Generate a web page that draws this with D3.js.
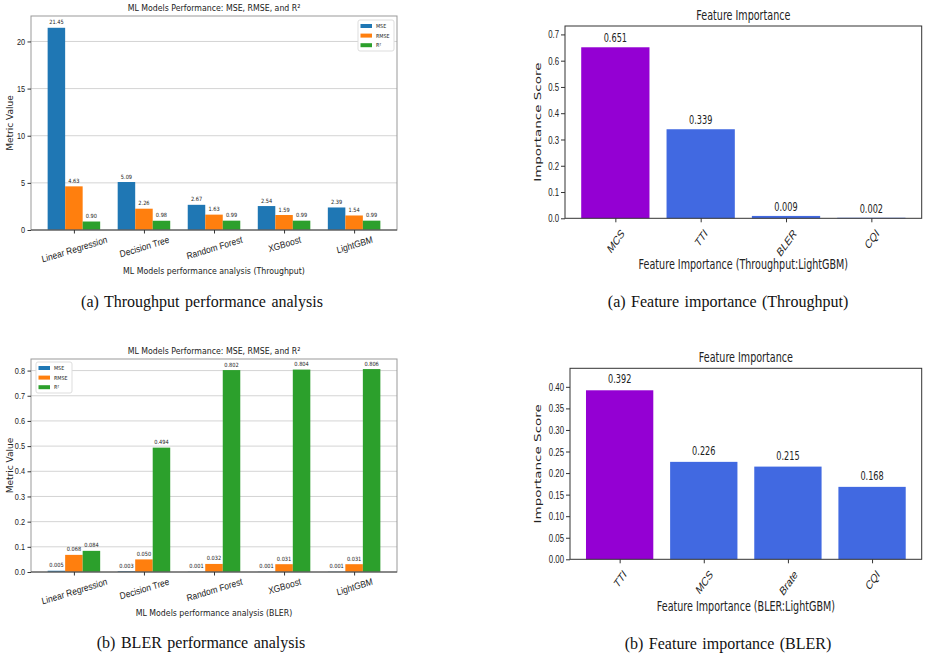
<!DOCTYPE html>
<html lang="en">
<head>
<meta charset="UTF-8">
<title>ML Models Performance and Feature Importance</title>
<script src="https://d3js.org/d3.v7.min.js"></script>
<style>
    body { margin: 0; background: #fff; }
    svg { display: block; font-family: "DejaVu Sans", sans-serif; }
    .caption { font-family: "Liberation Serif", "Times New Roman", serif; font-size: 16px; word-spacing: 1.5px; fill: #111; }
    .tick line { stroke: #333; }
    .tick text { fill: #222; }
    .domain { display: none; }
</style>
</head>
<body>
<script>
    // ---- data ----
    const models = ['Linear Regression', 'Decision Tree', 'Random Forest', 'XGBoost', 'LightGBM'];
    const metrics = ['MSE', 'RMSE', 'R²'];

    const tputMSE = [21.45, 5.09, 2.67, 2.54, 2.39];
    const tputRMSE = [4.63, 2.26, 1.63, 1.59, 1.54];
    const tputR2 = [0.90, 0.98, 0.99, 0.99, 0.99];
    const tputTicks = [0, 5, 10, 15, 20];

    const blerMSE = [0.005, 0.003, 0.001, 0.001, 0.001];
    const blerRMSE = [0.068, 0.050, 0.032, 0.031, 0.031];
    const blerR2 = [0.084, 0.494, 0.802, 0.804, 0.806];
    const blerTicks = [0, 0.1, 0.2, 0.3, 0.4, 0.5, 0.6, 0.7, 0.8];

    const tputFeatures = ['MCS', 'TTI', 'BLER', 'CQI'];
    const tputImportance = [0.651, 0.339, 0.009, 0.002];
    const tputImpTicks = [0, 0.1, 0.2, 0.3, 0.4, 0.5, 0.6, 0.7];

    const blerFeatures = ['TTI', 'MCS', 'Brate', 'CQI'];
    const blerImportance = [0.392, 0.226, 0.215, 0.168];
    const blerImpTicks = [0, 0.05, 0.10, 0.15, 0.20, 0.25, 0.30, 0.35, 0.40];

    const metricColors = ['#1f77b4', '#ff7f0e', '#2ca02c'];
    const topColor = '#9400d3';
    const restColor = '#4169e1';

    const svg = d3.select('body').append('svg')
        .attr('width', 929)
        .attr('height', 660);

    // text squeezed horizontally like the reference
    function label(g, x, y, str, size, sx, rot, anchor) {
        return g.append('text')
            .attr('font-size', size)
            .attr('text-anchor', anchor || 'middle')
            .attr('fill', '#222')
            .attr('transform', `translate(${x},${y}) scale(${sx},1)` + (rot ? ` rotate(${rot})` : ''))
            .text(str);
    }

    function rotateTicks(axisG, angle, sx, top, fs) {
        const a = angle * Math.PI / 180;
        axisG.selectAll('.tick text').each(function() {
            const t = d3.select(this);
            t.attr('y', null).attr('dy', '0.35em').attr('text-anchor', 'middle').attr('font-size', fs);
            const L = this.getComputedTextLength();
            const V = L * Math.sin(a) + fs * 0.9 * Math.cos(a);
            t.attr('transform', `translate(0,${top + V / 2}) scale(${sx},1) rotate(${-angle})`);
        });
    }

    function groupedChart(o) {
        const g = svg.append('g');
        const sx = 0.87;
        const x = d3.scaleLinear().domain([-0.6125, models.length - 1 + 0.6125]).range([o.left, o.right]);
        const y = d3.scaleLinear().domain([0, o.ymax]).range([o.bottom, o.top]);
        const bw = 0.25;

        g.selectAll('.grid').data(o.ticks.slice(1)).join('line')
            .attr('x1', o.left).attr('x2', o.right)
            .attr('y1', d => y(d)).attr('y2', d => y(d))
            .attr('stroke', '#d4d4d4').attr('stroke-width', 1);

        [o.mse, o.rmse, o.r2].forEach((vals, s) => {
            g.selectAll(null).data(vals).join('rect')
                .attr('x', (d, i) => x(i + (s - 1) * bw - bw / 2))
                .attr('width', x(bw) - x(0))
                .attr('y', d => y(d))
                .attr('height', d => y(0) - y(d))
                .attr('fill', metricColors[s]);
            vals.forEach((d, i) => {
                label(g, x(i + (s - 1) * bw), y(d) - 3.5, o.fmt(d), 5.8, sx);
            });
        });

        g.append('rect')
            .attr('x', o.left).attr('y', o.top)
            .attr('width', o.right - o.left).attr('height', o.bottom - o.top)
            .attr('fill', 'none').attr('stroke', '#999');
        g.append('line')
            .attr('x1', o.left).attr('x2', o.right)
            .attr('y1', o.bottom).attr('y2', o.bottom)
            .attr('stroke', '#444');

        const ya = g.append('g')
            .attr('transform', `translate(${o.left},0)`)
            .call(d3.axisLeft(y).tickValues(o.ticks).tickFormat(o.tickFmt).tickSize(3.5));
        ya.selectAll('.tick text')
            .attr('font-size', 8.4)
            .attr('x', -6 / sx)
            .attr('transform', `scale(${sx},1)`);

        const xa = g.append('g')
            .attr('transform', `translate(0,${o.bottom})`)
            .call(d3.axisBottom(x).tickValues(d3.range(models.length)).tickFormat(i => models[i]).tickSize(3.5));
        rotateTicks(xa, 15, sx, 5, 9.6);

        label(g, (o.left + o.right) / 2, o.top - 5, 'ML Models Performance: MSE, RMSE, and R²', 9, sx);
        label(g, (o.left + o.right) / 2, o.xlabelY, o.xlabel, 9, sx);
        label(g, 10.5, (o.top + o.bottom) / 2, 'Metric Value', 9, sx, -90).attr('dy', '0.35em');

        // legend
        const lg = g.append('g').attr('transform', `translate(${o.legX},${o.legY})`);
        lg.append('rect')
            .attr('width', 36).attr('height', 31).attr('rx', 2)
            .attr('fill', '#fff').attr('stroke', '#ddd');
        metrics.forEach((m, i) => {
            lg.append('rect')
                .attr('x', 2.5).attr('y', 4 + i * 9.6)
                .attr('width', 11.5).attr('height', 4)
                .attr('fill', metricColors[i]);
            label(lg, 18, 6 + i * 9.6, m, 5.5, sx, 0, 'start').attr('dy', '0.35em');
        });

        label(g, o.capX, o.capY, o.caption, 16, 1).attr('class', 'caption');
    }

    function importanceChart(o) {
        const g = svg.append('g');
        const sx = 0.71;
        const x = d3.scaleLinear().domain([-0.59, o.names.length - 1 + 0.59]).range([o.left, o.right]);
        const y = d3.scaleLinear().domain([0, o.ymax]).range([o.bottom, o.top]);
        const bw = 0.8;

        g.selectAll(null).data(o.values).join('rect')
            .attr('x', (d, i) => x(i - bw / 2))
            .attr('width', x(bw) - x(0))
            .attr('y', d => y(d))
            .attr('height', d => y(0) - y(d))
            .attr('fill', (d, i) => i === 0 ? topColor : restColor);

        o.values.forEach((d, i) => {
            label(g, x(i), y(d) - o.valGap, d3.format('.3f')(d), 11.5, sx);
        });

        g.append('rect')
            .attr('x', o.left).attr('y', o.top)
            .attr('width', o.right - o.left).attr('height', o.bottom - o.top)
            .attr('fill', 'none').attr('stroke', '#333');

        const ya = g.append('g')
            .attr('transform', `translate(${o.left},0)`)
            .call(d3.axisLeft(y).tickValues(o.ticks).tickFormat(o.tickFmt).tickSize(4));
        ya.selectAll('.tick text')
            .attr('font-size', 11)
            .attr('x', -6 / sx)
            .attr('transform', `scale(${sx},1)`);

        const xa = g.append('g')
            .attr('transform', `translate(0,${o.bottom})`)
            .call(d3.axisBottom(x).tickValues(d3.range(o.names.length)).tickFormat(i => o.names[i]).tickSize(4));
        rotateTicks(xa, 45, sx, 9, 12.5);

        label(g, (o.left + o.right) / 2, o.top - 6.5, 'Feature Importance', 13.5, sx);
        label(g, (o.left + o.right) / 2, o.xlabelY, o.xlabel, 13.5, sx);
        label(g, 538, (o.top + o.bottom) / 2, 'Importance Score', 13.5, sx, -90).attr('dy', '0.35em');

        label(g, o.capX, o.capY, o.caption, 16, 1).attr('class', 'caption');
    }

    groupedChart({
        mse: tputMSE, rmse: tputRMSE, r2: tputR2,
        ticks: tputTicks, tickFmt: d3.format('d'), fmt: d3.format('.2f'),
        ymax: 22.7, left: 31, right: 397, top: 16, bottom: 230,
        xlabel: 'ML Models performance analysis (Throughput)', xlabelY: 274,
        legX: 358, legY: 20,
        caption: '(a) Throughput performance analysis', capX: 202, capY: 307
    });

    groupedChart({
        mse: blerMSE, rmse: blerRMSE, r2: blerR2,
        ticks: blerTicks, tickFmt: d3.format('.1f'), fmt: d3.format('.3f'),
        ymax: 0.846, left: 31, right: 397, top: 359, bottom: 572,
        xlabel: 'ML Models performance analysis (BLER)', xlabelY: 616,
        legX: 36, legY: 362,
        caption: '(b) BLER performance analysis', capX: 201, capY: 648
    });

    importanceChart({
        names: tputFeatures, values: tputImportance,
        ticks: tputImpTicks, tickFmt: d3.format('.1f'),
        ymax: 0.732, left: 565, right: 921.7, top: 26, bottom: 218.3, valGap: 5,
        xlabel: 'Feature Importance (Throughput:LightGBM)', xlabelY: 269,
        caption: '(a) Feature importance (Throughput)', capX: 728, capY: 307
    });

    importanceChart({
        names: blerFeatures, values: blerImportance,
        ticks: blerImpTicks, tickFmt: d3.format('.2f'),
        ymax: 0.443, left: 570, right: 921.7, top: 368.3, bottom: 559.3, valGap: 7,
        xlabel: 'Feature Importance (BLER:LightGBM)', xlabelY: 611,
        caption: '(b) Feature importance (BLER)', capX: 728, capY: 649
    });
</script>
</body>
</html>
